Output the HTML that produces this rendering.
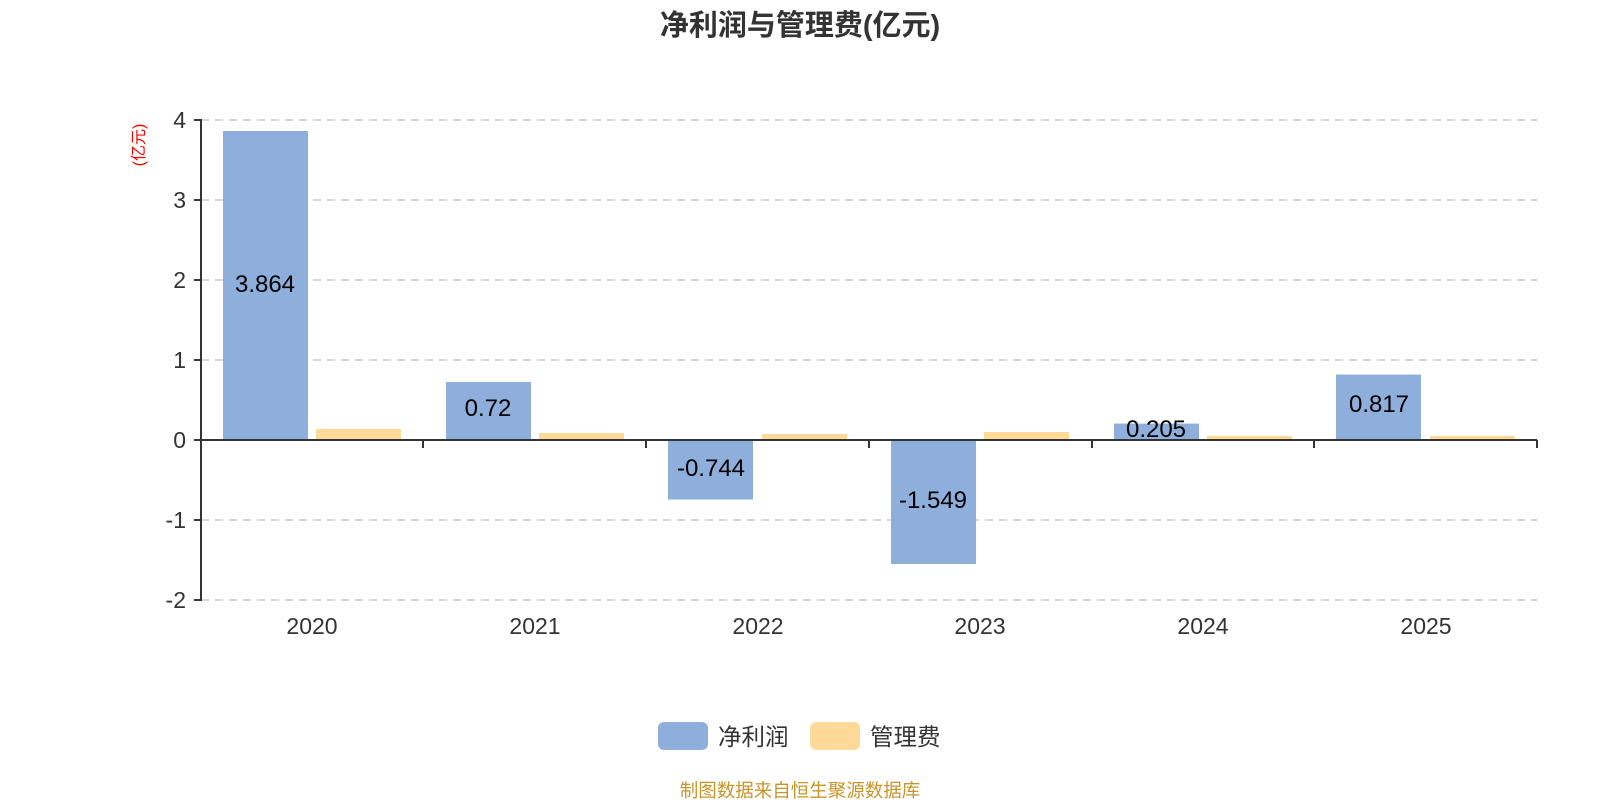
<!DOCTYPE html>
<html><head><meta charset="utf-8"><style>
html,body{margin:0;padding:0;background:#fff;}
svg text{font-family:"Liberation Sans","Noto Sans CJK SC",sans-serif;}
</style></head><body>
<svg width="1600" height="800" viewBox="0 0 1600 800" xmlns="http://www.w3.org/2000/svg">
<text x="800" y="35" text-anchor="middle" font-size="29" font-weight="bold" fill="#333">净利润与管理费(亿元)</text>
<text transform="translate(144,145) rotate(-90)" text-anchor="middle" font-size="16" fill="#f00">(亿元)</text>
<g stroke="#ccc" stroke-width="1.5" stroke-dasharray="8,6">
<line x1="201" y1="120" x2="1537" y2="120"/>
<line x1="201" y1="200" x2="1537" y2="200"/>
<line x1="201" y1="280" x2="1537" y2="280"/>
<line x1="201" y1="360" x2="1537" y2="360"/>
<line x1="201" y1="520" x2="1537" y2="520"/>
<line x1="201" y1="600" x2="1537" y2="600"/>
</g>
<g fill="#333" font-size="23" text-anchor="end">
<text x="186" y="128">4</text><text x="186" y="208">3</text><text x="186" y="288">2</text>
<text x="186" y="368">1</text><text x="186" y="448">0</text><text x="186" y="528">-1</text><text x="186" y="608">-2</text>
</g>
<g fill="#8eaedb">
<rect x="223" y="131" width="85" height="309"/>
<rect x="446" y="382" width="85" height="58"/>
<rect x="668" y="440" width="85" height="59.5"/>
<rect x="891" y="440" width="85" height="124"/>
<rect x="1114" y="423.6" width="85" height="16.4"/>
<rect x="1336" y="374.6" width="85" height="65.4"/>
</g>
<g fill="#fed998">
<rect x="316" y="429" width="85" height="11"/>
<rect x="539" y="433" width="85" height="7"/>
<rect x="762" y="434" width="85" height="6"/>
<rect x="984" y="432" width="85" height="8"/>
<rect x="1207" y="436" width="85" height="4"/>
<rect x="1430" y="436" width="85" height="4"/>
</g>
<g stroke="#333" stroke-width="2" fill="none">
<line x1="201" y1="119" x2="201" y2="601"/>
<line x1="194" y1="120" x2="201" y2="120"/><line x1="194" y1="200" x2="201" y2="200"/>
<line x1="194" y1="280" x2="201" y2="280"/><line x1="194" y1="360" x2="201" y2="360"/>
<line x1="194" y1="440" x2="201" y2="440"/><line x1="194" y1="520" x2="201" y2="520"/>
<line x1="194" y1="600" x2="201" y2="600"/>
<line x1="201" y1="440" x2="1537" y2="440"/>
<line x1="423" y1="440" x2="423" y2="448"/><line x1="646" y1="440" x2="646" y2="448"/>
<line x1="869" y1="440" x2="869" y2="448"/><line x1="1092" y1="440" x2="1092" y2="448"/>
<line x1="1314" y1="440" x2="1314" y2="448"/><line x1="1537" y1="440" x2="1537" y2="448"/>
</g>
<g fill="#000" font-size="24" text-anchor="middle">
<text x="265" y="292">3.864</text>
<text x="488" y="416">0.72</text>
<text x="711" y="476">-0.744</text>
<text x="933" y="508">-1.549</text>
<text x="1156" y="437">0.205</text>
<text x="1379" y="412">0.817</text>
</g>
<g fill="#333" font-size="23" text-anchor="middle">
<text x="312" y="634">2020</text><text x="535" y="634">2021</text><text x="758" y="634">2022</text>
<text x="980" y="634">2023</text><text x="1203" y="634">2024</text><text x="1426" y="634">2025</text>
</g>
<rect x="658" y="722" width="50" height="28" rx="6" fill="#8eaedb"/>
<text x="718" y="745" font-size="23.5" fill="#333">净利润</text>
<rect x="810" y="722" width="50" height="28" rx="6" fill="#fed998"/>
<text x="870" y="745" font-size="23.5" fill="#333">管理费</text>
<text x="800" y="797" text-anchor="middle" font-size="18.5" fill="#c8952a">制图数据来自恒生聚源数据库</text>
</svg>
</body></html>
